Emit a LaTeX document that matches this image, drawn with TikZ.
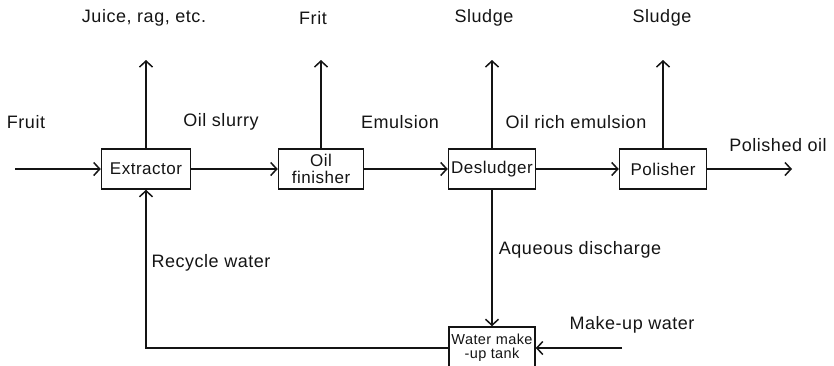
\documentclass[tikz,border=0pt]{standalone}
\usepackage{fontspec}
\setmainfont[LetterSpace=3]{Liberation Sans}
\usetikzlibrary{arrows.meta,positioning}

\begin{document}
\begin{tikzpicture}
			\definecolor{lineColour}{RGB}{20, 20, 20}
			\tikzstyle{unit}=[rectangle, draw, color=lineColour, line width=1.5pt, minimum width=87pt, minimum height=40pt, inner sep=1pt, align=center, font=\fontsize{17}{17}\selectfont]
			\tikzstyle{stream}=[color=lineColour, inner sep=0pt, font=\fontsize{18}{20}\selectfont]
			\tikzstyle{flow}=[color=lineColour, line width=1.5pt, -{Straight Barb[length=6pt, width=13pt, line width=1.5pt]}]

			\useasboundingbox (0,0) rectangle (834pt,-365pt);

			\node [unit, minimum width=89pt, xshift=146pt, yshift=-169pt] (extr) {Extractor};
			\node [unit, minimum width=85pt, inner sep=0pt, xshift=321pt, yshift=-169pt] (fin) {Oil\\finisher};
			\node [unit, xshift=492pt, yshift=-169pt] (desl) {Desludger};
			\node [unit, xshift=663pt, yshift=-169pt] (pol) {Polisher};
			\node [unit, minimum width=86pt, minimum height=42pt, inner sep=0pt, font=\fontsize{14.5}{14}\selectfont, xshift=492pt, yshift=-348pt] (tank) {Water make\\-up tank};

			\coordinate [xshift=15pt, yshift=-169pt] (fruitIn);
			\coordinate [xshift=146pt, yshift=-60pt] (juiceOut);
			\coordinate [xshift=321pt, yshift=-60pt] (fritOut);
			\coordinate [xshift=492pt, yshift=-60pt] (sludgeA);
			\coordinate [xshift=663pt, yshift=-60pt] (sludgeB);
			\coordinate [xshift=792pt, yshift=-169pt] (oilOut);
			\coordinate [xshift=622pt, yshift=-348pt] (waterIn);

			\node [stream, xshift=144pt, yshift=-18pt] (juice) {Juice, rag, etc.};
			\node [stream, xshift=313pt, yshift=-18pt] (frit) {Frit};
			\node [stream, xshift=484pt, yshift=-18pt] (sludge1) {Sludge};
			\node [stream, xshift=662pt, yshift=-18pt] (sludge2) {Sludge};
			\node [stream, xshift=26pt, yshift=-122pt] (fruit) {Fruit};
			\node [stream, xshift=221pt, yshift=-122pt] (slurry) {Oil slurry};
			\node [stream, xshift=400pt, yshift=-122pt] (emul) {Emulsion};
			\node [stream, xshift=576pt, yshift=-122pt] (richemul) {Oil rich emulsion};
			\node [stream, xshift=778pt, yshift=-145pt] (polished) {Polished oil};
			\node [stream, xshift=211pt, yshift=-263pt] (recycle) {Recycle water};
			\node [stream, xshift=580pt, yshift=-250pt] (aqueous) {Aqueous discharge};
			\node [stream, xshift=632pt, yshift=-325pt] (makeup) {Make-up water};

			\path[flow]
			(fruitIn) edge (extr)
			(extr) edge (fin)
			(fin) edge (desl)
			(desl) edge (pol)
			(pol) edge (oilOut)
			(extr) edge (juiceOut)
			(fin) edge (fritOut)
			(desl) edge (sludgeA)
			(pol) edge (sludgeB)
			(desl) edge (tank)
			(waterIn) edge (tank);

			\draw[flow] (tank.west) -| (extr.south);
		\end{tikzpicture}
\end{document}
